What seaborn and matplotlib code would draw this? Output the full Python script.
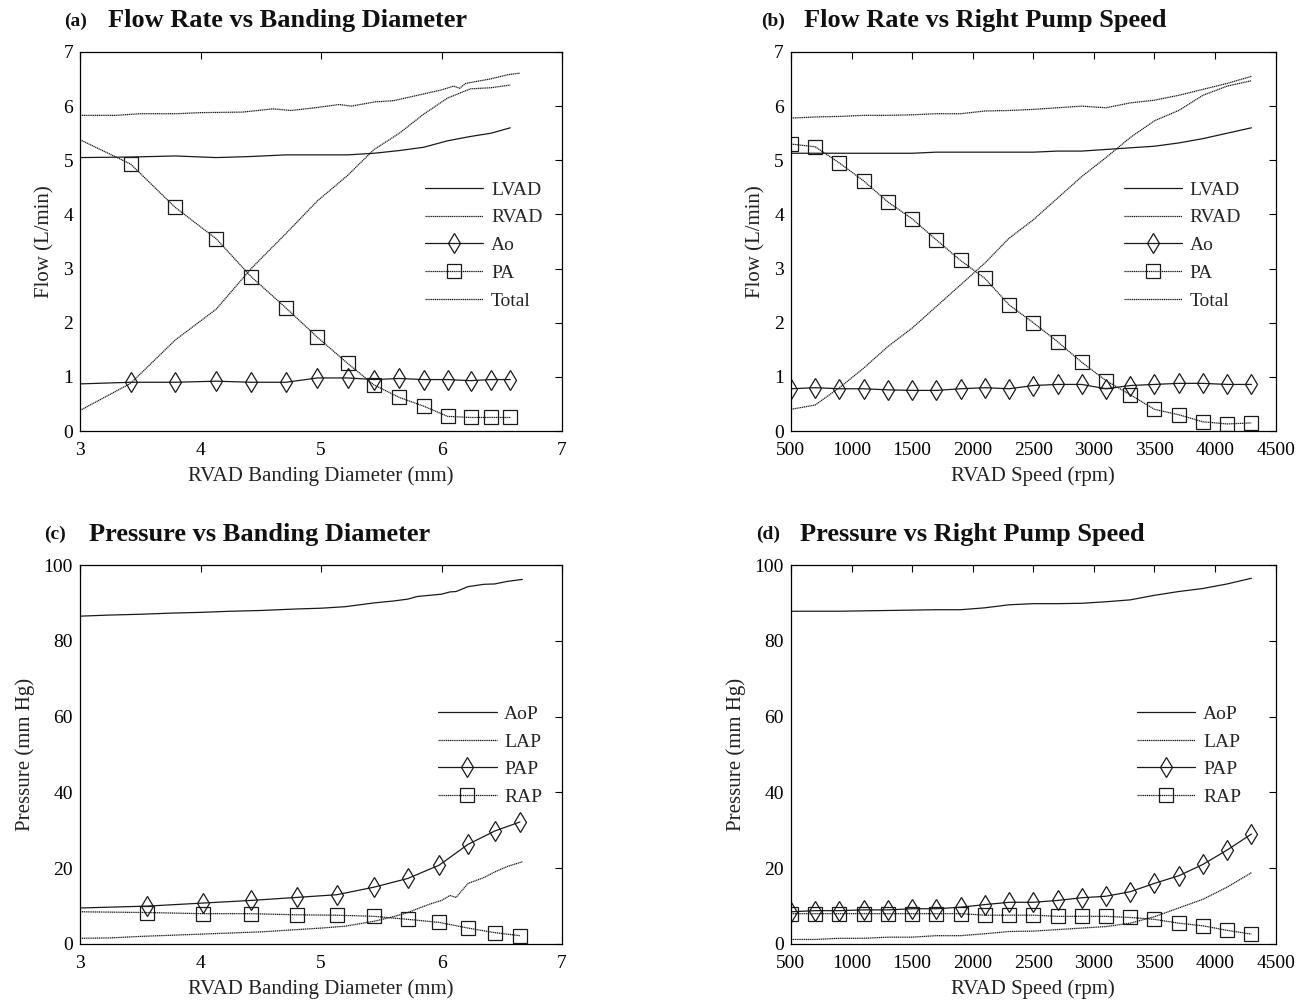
import numpy as np
import pandas as pd
import matplotlib
matplotlib.use("Agg")
import matplotlib.pyplot as plt
from matplotlib.lines import Line2D
import seaborn as sns

# ---------------- data ----------------
# Panel (a): flow vs banding diameter
a_x = [3.0, 3.42, 3.79, 4.13, 4.42, 4.71, 4.97, 5.22, 5.44, 5.65, 5.85, 6.05, 6.24, 6.41, 6.57]
a_lvad = [5.05, 5.06, 5.08, 5.05, 5.07, 5.10, 5.10, 5.10, 5.13, 5.18, 5.24, 5.36, 5.44, 5.50, 5.60]
a_rvad = [0.38, 0.88, 1.68, 2.25, 3.00, 3.65, 4.25, 4.72, 5.20, 5.50, 5.85, 6.15, 6.32, 6.34, 6.39]
a_ao = [0.87, 0.90, 0.90, 0.92, 0.90, 0.90, 0.98, 0.98, 0.95, 0.97, 0.95, 0.95, 0.93, 0.95, 0.95]
a_pa = [5.38, 4.93, 4.13, 3.55, 2.85, 2.27, 1.73, 1.25, 0.85, 0.62, 0.46, 0.27, 0.25, 0.25, 0.25]
a_total_x = [3.0, 3.3, 3.5, 3.8, 4.0, 4.35, 4.6, 4.75, 4.95, 5.15, 5.25, 5.45, 5.6, 5.8,
             6.0, 6.1, 6.15, 6.2, 6.4, 6.55, 6.65]
a_total = [5.83, 5.83, 5.86, 5.86, 5.88, 5.89, 5.95, 5.92, 5.97, 6.03, 6.00, 6.08, 6.10, 6.20,
           6.30, 6.37, 6.33, 6.42, 6.50, 6.58, 6.61]

# Panel (b): flow vs RVAD speed
speed = [500, 700, 900, 1100, 1300, 1500, 1700, 1900, 2100, 2300,
         2500, 2700, 2900, 3100, 3300, 3500, 3700, 3900, 4100, 4300]
b_lvad = [5.13, 5.13, 5.13, 5.13, 5.13, 5.13, 5.15, 5.15, 5.15, 5.15,
          5.15, 5.17, 5.17, 5.20, 5.23, 5.26, 5.32, 5.40, 5.50, 5.60]
b_rvad = [0.40, 0.48, 0.80, 1.16, 1.56, 1.90, 2.30, 2.70, 3.10, 3.56,
          3.90, 4.30, 4.70, 5.05, 5.42, 5.73, 5.92, 6.20, 6.37, 6.47]
b_ao = [0.78, 0.80, 0.78, 0.78, 0.76, 0.75, 0.75, 0.78, 0.80, 0.78,
        0.84, 0.86, 0.86, 0.78, 0.84, 0.86, 0.88, 0.88, 0.86, 0.86]
b_pa = [5.30, 5.25, 4.95, 4.62, 4.23, 3.92, 3.53, 3.15, 2.82, 2.33,
        2.00, 1.65, 1.27, 0.93, 0.67, 0.40, 0.30, 0.17, 0.13, 0.15]
b_total = [5.78, 5.80, 5.81, 5.83, 5.83, 5.84, 5.86, 5.86, 5.91, 5.92,
           5.94, 5.97, 6.00, 5.97, 6.06, 6.11, 6.20, 6.31, 6.42, 6.55]

# Panel (c): pressure vs banding diameter
c_x = [3.0, 3.56, 4.02, 4.42, 4.80, 5.13, 5.44, 5.72, 5.98, 6.22, 6.44, 6.65]
c_pap = [9.5, 10.0, 10.8, 11.5, 12.3, 13.0, 15.0, 17.3, 20.8, 26.3, 29.8, 32.2]
c_rap = [8.5, 8.3, 8.0, 8.0, 7.7, 7.6, 7.3, 6.5, 5.7, 4.2, 3.0, 2.2]
c_line_x = [3.0, 3.25, 3.5, 3.75, 4.0, 4.25, 4.5, 4.8, 5.0, 5.2, 5.44, 5.6,
            5.72, 5.8, 5.9, 6.0, 6.07, 6.12, 6.22, 6.35, 6.44, 6.55, 6.67]
c_aop = [86.5, 86.8, 87.0, 87.3, 87.5, 87.8, 88.0, 88.4, 88.6, 89.0, 90.0, 90.5,
         91.0, 91.7, 92.0, 92.3, 92.9, 93.0, 94.3, 94.9, 95.0, 95.7, 96.2]
c_lap = [1.5, 1.6, 2.0, 2.3, 2.6, 2.9, 3.2, 3.8, 4.2, 4.7, 6.0, 7.2,
         8.3, 9.3, 10.5, 11.5, 12.8, 12.3, 16.0, 17.5, 19.0, 20.5, 21.7]

# Panel (d): pressure vs RVAD speed
d_aop = [87.8, 87.8, 87.8, 87.9, 88.0, 88.1, 88.2, 88.2, 88.7, 89.5,
         89.8, 89.8, 89.9, 90.3, 90.8, 92.0, 93.0, 93.8, 95.0, 96.5]
d_lap = [1.2, 1.2, 1.5, 1.5, 1.8, 1.8, 2.2, 2.2, 2.7, 3.3,
         3.4, 3.8, 4.2, 4.6, 5.5, 7.2, 9.5, 11.8, 15.0, 18.8]
d_pap = [8.5, 8.8, 8.8, 9.0, 9.0, 9.3, 9.3, 9.7, 10.4, 11.0,
         11.0, 11.5, 12.2, 12.6, 13.8, 16.0, 18.0, 21.0, 24.8, 29.0]
d_rap = [8.0, 8.0, 8.0, 8.0, 8.0, 8.0, 8.0, 8.0, 7.6, 7.6,
         7.6, 7.3, 7.3, 7.3, 7.0, 6.5, 5.5, 4.8, 3.6, 2.6]

flow_labels = ["LVAD", "RVAD", "Ao", "PA", "Total"]
pres_labels = ["AoP", "LAP", "PAP", "RAP"]

# ---------------- style ----------------
sns.set_theme(style="white")
plt.rcParams["font.family"] = ["Liberation Serif", "DejaVu Serif"]
plt.rcParams["axes.edgecolor"] = "black"
plt.rcParams["axes.linewidth"] = 0.9

SOLID = "-"
DOT = (0, (1.0, 0.5))
LW = 0.9
MS = {"s": 9.5, "d": 10.0}
K = "#1a1a1a"

fig = plt.figure(figsize=(13.03, 10.0), dpi=100)

axa = fig.add_axes([0.0614, 0.569, 0.370, 0.379])
axb = fig.add_axes([0.607, 0.569, 0.372, 0.379])
axc = fig.add_axes([0.0614, 0.056, 0.370, 0.379])
axd = fig.add_axes([0.607, 0.056, 0.372, 0.379])


def line(ax, x, y, ls, marker=None, skip_first=False):
    kws = dict(x=x, y=y, ax=ax, color=K, linestyle=ls, linewidth=LW,
               errorbar=None, sort=False, legend=False)
    if marker is not None:
        kws.update(marker=marker, markersize=MS[marker],
                   markerfacecolor="none", markeredgecolor=K, markeredgewidth=0.9,
                   markevery=slice(1, None) if skip_first else None)
    sns.lineplot(**kws)


def proxies(specs, labels):
    hs = []
    for (ls, mk), lab in zip(specs, labels):
        hs.append(Line2D([], [], color=K, linestyle=ls, linewidth=LW, marker=mk,
                         markersize=MS[mk] if mk else 0,
                         markerfacecolor="none", markeredgecolor=K,
                         markeredgewidth=0.9, label=lab))
    return hs


def style_axes(ax, xlim, xticks, ylim, yticks, xlabel, ylabel):
    ax.set_xlim(*xlim)
    ax.set_ylim(*ylim)
    ax.set_xticks(xticks)
    ax.set_yticks(yticks)
    ax.tick_params(direction="in", top=True, right=True, length=5, width=0.8,
                   labelsize=14, colors="black")
    ax.tick_params(axis="x", pad=8)
    ax.tick_params(axis="y", pad=5)
    ax.set_xlabel(xlabel, fontsize=15, color="#222222", labelpad=5)
    ax.set_ylabel(ylabel, fontsize=15, color="#222222", labelpad=6)
    for s in ax.spines.values():
        s.set_visible(True)
        s.set_color("black")
        s.set_linewidth(0.9)
    ax.grid(False)


# (a)
line(axa, a_x, a_lvad, SOLID)
line(axa, a_x, a_rvad, DOT)
line(axa, a_x, a_ao, SOLID, "d", skip_first=True)
line(axa, a_x, a_pa, DOT, "s", skip_first=True)
line(axa, a_total_x, a_total, DOT)
style_axes(axa, (3, 7), [3, 4, 5, 6, 7], (0, 7), range(0, 8),
           "RVAD Banding Diameter (mm)", "Flow (L/min)")

# (b)
line(axb, speed, b_lvad, SOLID)
line(axb, speed, b_rvad, DOT)
line(axb, speed, b_ao, SOLID, "d")
line(axb, speed, b_pa, DOT, "s")
line(axb, speed, b_total, DOT)
style_axes(axb, (500, 4500), range(500, 4501, 500), (0, 7), range(0, 8),
           "RVAD Speed (rpm)", "Flow (L/min)")

# (c)
line(axc, c_line_x, c_aop, SOLID)
line(axc, c_line_x, c_lap, DOT)
line(axc, c_x, c_pap, SOLID, "d", skip_first=True)
line(axc, c_x, c_rap, DOT, "s", skip_first=True)
style_axes(axc, (3, 7), [3, 4, 5, 6, 7], (0, 100), range(0, 101, 20),
           "RVAD Banding Diameter (mm)", "Pressure (mm Hg)")

# (d)
line(axd, speed, d_aop, SOLID)
line(axd, speed, d_lap, DOT)
line(axd, speed, d_pap, SOLID, "d")
line(axd, speed, d_rap, DOT, "s")
style_axes(axd, (500, 4500), range(500, 4501, 500), (0, 100), range(0, 101, 20),
           "RVAD Speed (rpm)", "Pressure (mm Hg)")

flow_specs = [(SOLID, None), (DOT, None), (SOLID, "d"), (DOT, "s"), (DOT, None)]
pres_specs = [(SOLID, None), (DOT, None), (SOLID, "d"), (DOT, "s")]

leg_kw = dict(loc="center right", frameon=False, fontsize=14, handlelength=3.0,
              handletextpad=0.4, labelspacing=0.52, borderaxespad=0.0)
axa.legend(handles=proxies(flow_specs, flow_labels), bbox_to_anchor=(0.975, 0.49), **leg_kw)
axb.legend(handles=proxies(flow_specs, flow_labels), bbox_to_anchor=(0.945, 0.49), **leg_kw)
axc.legend(handles=proxies(pres_specs, pres_labels), bbox_to_anchor=(0.975, 0.497), **leg_kw)
axd.legend(handles=proxies(pres_specs, pres_labels), bbox_to_anchor=(0.945, 0.497), **leg_kw)

# titles
def title(xl, xm, y, tag, text):
    fig.text(xl / 1303, 1 - y / 1000, tag, fontsize=14, fontweight="bold",
             va="center", ha="left", color="#111111")
    fig.text(xm / 1303, 1 - y / 1000, text, fontsize=19, fontweight="bold",
             va="center", ha="left", color="#111111")

title(64, 108, 21, "(a)", "Flow Rate vs Banding Diameter")
title(761, 804, 21, "(b)", "Flow Rate vs Right Pump Speed")
title(44, 89, 534, "(c)", "Pressure vs Banding Diameter")
title(756, 800, 534, "(d)", "Pressure vs Right Pump Speed")

fig.savefig("out.png", dpi=100, facecolor="white")
